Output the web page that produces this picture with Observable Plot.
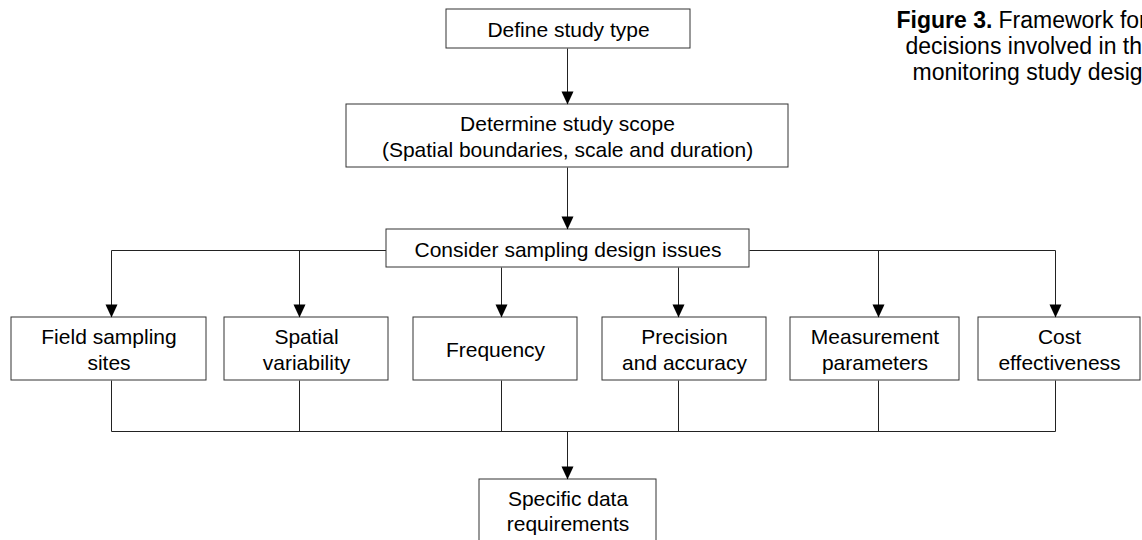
<!DOCTYPE html>
<html>
<head>
<meta charset="utf-8">
<script src="https://cdn.jsdelivr.net/npm/d3@7"></script>
<script src="https://cdn.jsdelivr.net/npm/@observablehq/plot@0.6"></script>
<style>
  html, body { margin: 0; padding: 0; background: #fff; overflow: hidden; }
  #chart svg { display: block; }
</style>
</head>
<body>
<div id="chart"></div>
<script>
// ---- Content (text of the flowchart) ----
const stepLabels = [
  "Define study type",
  "Determine study scope\n(Spatial boundaries, scale and duration)",
  "Consider sampling design issues"
];
const issueLabels = [
  "Field sampling\nsites",
  "Spatial\nvariability",
  "Frequency",
  "Precision\nand accuracy",
  "Measurement\nparameters",
  "Cost\neffectiveness"
];
const outcomeLabel = "Specific data\nrequirements";
const captionBold = "Figure 3.";
const captionLines = ["Framework for", "decisions involved in the", "monitoring study design"];

// ---- Layout (positions in page pixels) ----
const W = 1142, H = 540;
const stepBoxes = [
  {x1: 446, x2: 690, y1: 9, y2: 48},
  {x1: 346, x2: 788, y1: 104, y2: 167},
  {x1: 386, x2: 749, y1: 229, y2: 267}
];
const issueX1 = [11, 224, 413, 602, 790, 978];
const issueX2 = [206, 388, 577, 766, 959, 1140];
const issueLink = [111, 299, 501, 678, 878, 1055];
const issueTop = 317, issueBottom = 380;
const busTop = 250, busBottom = 431;
const outcomeBox = {x1: 479, x2: 656, y1: 479, y2: 552};
const cx = 567;
const captionX = [998, 905, 912], captionY = [27, 53, 79], captionBoldX = 896;

// ---- Build mark data ----
const steps = stepLabels.map((label, i) => ({label, ...stepBoxes[i]}));
const issues = issueLabels.map((label, i) => ({label, x1: issueX1[i], x2: issueX2[i], y1: issueTop, y2: issueBottom}));
const outcome = [{label: outcomeLabel, ...outcomeBox}];
const boxes = [...steps, ...issues, ...outcome];

const links = [
  {x1: cx, y1: stepBoxes[0].y2, x2: cx, y2: stepBoxes[1].y1},
  {x1: cx, y1: stepBoxes[1].y2, x2: cx, y2: stepBoxes[2].y1},
  {x1: issueLink[0], y1: busTop, x2: stepBoxes[2].x1, y2: busTop},
  {x1: stepBoxes[2].x2, y1: busTop, x2: issueLink[5], y2: busTop},
  ...issueLink.map(x => {
    const under = x > stepBoxes[2].x1 && x < stepBoxes[2].x2;
    return {x1: x, y1: under ? stepBoxes[2].y2 : busTop, x2: x, y2: issueTop};
  }),
  ...issueLink.map(x => ({x1: x, y1: issueBottom, x2: x, y2: busBottom})),
  {x1: issueLink[0], y1: busBottom, x2: issueLink[5], y2: busBottom},
  {x1: cx, y1: busBottom, x2: cx, y2: outcomeBox.y1}
];

const heads = [
  {x: cx, y: stepBoxes[1].y1},
  {x: cx, y: stepBoxes[2].y1},
  ...issueLink.map(x => ({x, y: issueTop})),
  {x: cx, y: outcomeBox.y1}
];

// filled downward triangle with its tip at the anchor point
const triDown = {
  draw(context) {
    const w = 12, h = 13;
    context.moveTo(-w / 2, -h);
    context.lineTo(w / 2, -h);
    context.lineTo(0, 0);
    context.closePath();
  }
};

const font = "'Liberation Sans', Arial, Helvetica, sans-serif";

const chart = Plot.plot({
  width: W,
  height: H,
  margin: 0,
  x: {domain: [0, W], range: [0, W], axis: null},
  y: {domain: [0, H], range: [0, H], axis: null},
  style: {fontFamily: font, background: "#fff", overflow: "hidden"},
  marks: [
    Plot.link(links, {x1: "x1", y1: "y1", x2: "x2", y2: "y2", stroke: "#222", strokeWidth: 1}),
    Plot.rect(boxes, {x1: "x1", x2: "x2", y1: "y1", y2: "y2", fill: "#fff", stroke: "#333", strokeWidth: 1}),
    Plot.dot(heads, {x: "x", y: "y", symbol: triDown, fill: "#000", stroke: "none", r: 6}),
    Plot.text(boxes, {
      x: d => (d.x1 + d.x2) / 2,
      y: d => d.y2 > H ? d.y1 + 31 : (d.y1 + d.y2) / 2,
      text: "label",
      fontSize: 21,
      lineHeight: 1.2,
      fill: "#000",
      textAnchor: "middle",
      lineAnchor: "middle"
    }),
    Plot.text([captionBold], {x: captionBoldX, y: captionY[0], text: d => d, textAnchor: "start", lineAnchor: "bottom", fontSize: 23, fontWeight: "bold", fill: "#000"}),
    Plot.text(captionLines.map((t, i) => ({t, x: captionX[i], y: captionY[i]})), {
      x: "x", y: "y", text: "t", textAnchor: "start", lineAnchor: "bottom", fontSize: 23, fill: "#000"
    })
  ]
});

document.getElementById("chart").appendChild(chart);
</script>
</body>
</html>
